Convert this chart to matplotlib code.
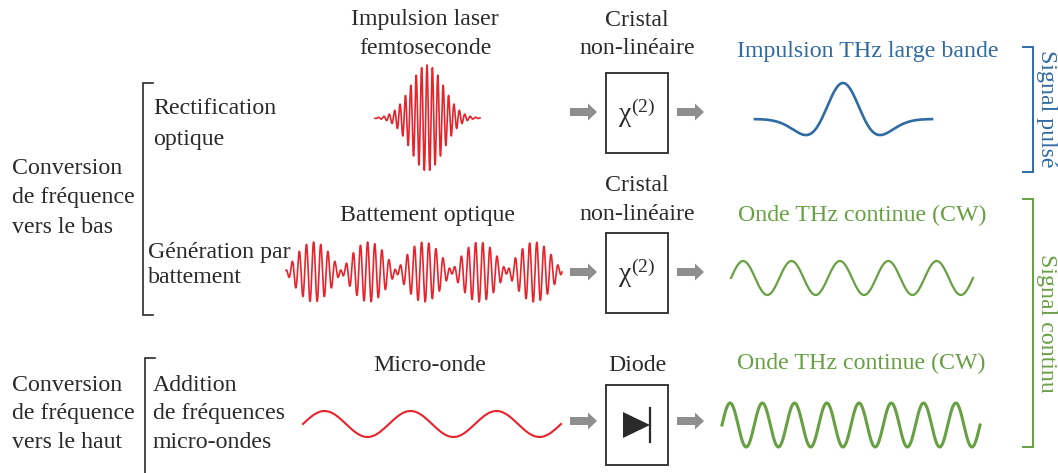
import numpy as np
import matplotlib
matplotlib.use("Agg")
import matplotlib.pyplot as plt
from matplotlib.patches import Rectangle, Polygon

plt.rcParams['font.family'] = ['Liberation Serif', 'DejaVu Serif']
plt.rcParams['mathtext.fontset'] = 'custom'
plt.rcParams['mathtext.rm'] = 'Liberation Serif'
plt.rcParams['mathtext.it'] = 'Liberation Serif'

# ---------------- data (pixel coordinates of the schematic) ----------------
RED = '#e8232c'
BLUE = '#2f6ba3'
GREEN = '#67a043'
GRAY = '#8e8e8e'
INK = '#2a2a2a'

left_group_labels = [["Conversion", "de fréquence", "vers le bas"],
                     ["Conversion", "de fréquence", "vers le haut"]]
left_group_y = [[168, 197, 227], [385, 413, 442]]
method_labels = [["Rectification", "optique"],
                 ["Génération par", "battement"],
                 ["Addition", "de fréquences", "micro-ondes"]]
method_y = [[108, 139], [252, 277], [385, 413, 442]]
method_x = [153, 148, 153]

input_titles = [["Impulsion laser", "femtoseconde"], ["Battement optique"], ["Micro-onde"]]
input_title_y = [[20, 48], [215], [365]]
input_title_x = [425, 428, 430]

device_titles = [["Cristal", "non-linéaire"], ["Cristal", "non-linéaire"], ["Diode"]]
device_title_y = [[20, 48], [185, 214], [365]]
device_box_top = [73, 233, 385]
arrow_y = [112, 272, 421]

output_titles = ["Impulsion THz large bande", "Onde THz continue (CW)", "Onde THz continue (CW)"]
output_title_y = [52, 215, 363]
output_title_x = [868, 862, 861]
output_colors = [BLUE, GREEN, GREEN]

# waveform parameters
pulse_span = (375, 480); pulse_y0 = 118; pulse_amp = 53; pulse_sigma = 16.5; pulse_period = 5.4
beat_span = (286, 562); beat_y0 = 272; beat_amp = 30; beat_period = 55.2; beat_carrier = 7.2; beat_ratio = 0.88
mw_span = (303, 561); mw_y0 = 424; mw_amp = 13; mw_cycles = 3
thz_span = (755, 932); thz_y0 = 119; thz_amp = 36; thz_center = 843; thz_sigma = 21.4
cw1_span = (731, 973); cw1_y0 = 278; cw1_amp = 17; cw1_cycles = 5
cw2_span = (722, 980); cw2_y0 = 425; cw2_amp = 22; cw2_cycles = 8

# ---------------- figure ----------------
fig = plt.figure(figsize=(10.58, 4.73), dpi=100)
ax = fig.add_axes([0, 0, 1, 1])
ax.set_xlim(0, 1058)
ax.set_ylim(473, 0)
ax.axis('off')

FS = 17.2

def txt(x, y, s, ha='center', color=INK, **kw):
    ax.text(x, y, s, ha=ha, va='center', fontsize=FS, color=color, **kw)

# left labels
for labels, ys in zip(left_group_labels, left_group_y):
    for s, y in zip(labels, ys):
        txt(12, y, s, ha='left')
for labels, ys, x in zip(method_labels, method_y, method_x):
    for s, y in zip(labels, ys):
        txt(x, y, s, ha='left')

# left brackets
ax.plot([153, 143, 143, 153], [83, 83, 315, 315], color=INK, lw=1.2, solid_joinstyle='miter')
ax.plot([155, 145, 145], [358, 358, 480], color=INK, lw=1.2, solid_joinstyle='miter')

# titles
for labels, ys, x in zip(input_titles, input_title_y, input_title_x):
    for s, y in zip(labels, ys):
        txt(x, y, s)
for labels, ys in zip(device_titles, device_title_y):
    for s, y in zip(labels, ys):
        txt(637, y, s)
for s, y, x, c in zip(output_titles, output_title_y, output_title_x, output_colors):
    txt(x, y, s, color=c)

# block arrow as polygon (pixel coordinates)
def block_arrow(x0, y, length=27, shaft=8, head=17, head_len=9):
    xs = x0 + length - head_len
    pts = [[x0, y - shaft / 2], [xs, y - shaft / 2], [xs, y - head / 2], [x0 + length, y],
           [xs, y + head / 2], [xs, y + shaft / 2], [x0, y + shaft / 2]]
    ax.add_patch(Polygon(pts, closed=True, facecolor=GRAY, edgecolor='none'))

# boxes and arrows
for i, (top, ay) in enumerate(zip(device_box_top, arrow_y)):
    ax.add_patch(Rectangle((606, top), 62, 80, fill=False, edgecolor=INK, lw=1.3))
    for x0 in (570, 677):
        block_arrow(x0, ay)
    if i < 2:
        ax.text(637, top + 40, r'$\chi^{(2)}$', ha='center', va='center', fontsize=20, color=INK)

# diode symbol
ax.add_patch(Polygon([[623, 412], [623, 438], [650, 425]], closed=True, color=INK, lw=0))
ax.plot([650, 650], [408, 442], color=INK, lw=1.6)

# femtosecond pulse
x = np.linspace(pulse_span[0], pulse_span[1], 2000)
c = 0.5 * (pulse_span[0] + pulse_span[1]) - 0.5
y = pulse_y0 - pulse_amp * np.exp(-(x - c) ** 2 / (2 * pulse_sigma ** 2)) * np.cos(2 * np.pi * (x - c) / pulse_period)
ax.plot(x, y, color=RED, lw=1.2)

# optical beat
x = np.linspace(beat_span[0], beat_span[1], 3000)
xm = beat_span[0] + beat_period / 2
f0 = 1 / beat_carrier
df = 1 / beat_period
sig = np.cos(2 * np.pi * (f0 + df / 2) * (x - xm)) + beat_ratio * np.cos(2 * np.pi * (f0 - df / 2) * (x - xm))
ax.plot(x, beat_y0 - beat_amp * sig / (1 + beat_ratio), color=RED, lw=1.2)

# microwave
x = np.linspace(mw_span[0], mw_span[1], 600)
ax.plot(x, mw_y0 - mw_amp * np.sin(2 * np.pi * mw_cycles * (x - mw_span[0]) / (mw_span[1] - mw_span[0])),
        color=RED, lw=1.5)

# THz pulse (Ricker-like)
x = np.linspace(thz_span[0], thz_span[1], 600)
t = (x - thz_center) / thz_sigma
ax.plot(x, thz_y0 - thz_amp * (1 - t ** 2) * np.exp(-t ** 2 / 2), color=BLUE, lw=1.9)

# CW waves
for span, y0, amp, cyc, lw in [(cw1_span, cw1_y0, cw1_amp, cw1_cycles, 1.6),
                               (cw2_span, cw2_y0, cw2_amp, cw2_cycles, 2.2)]:
    x = np.linspace(span[0], span[1], 800)
    ax.plot(x, y0 - amp * np.sin(2 * np.pi * cyc * (x - span[0]) / (span[1] - span[0])), color=GREEN, lw=lw)

# right brackets
ax.plot([1023, 1033, 1033, 1023], [47, 47, 172, 172], color=BLUE, lw=1.4, solid_joinstyle='miter')
ax.text(1046, 109, "Signal pulsé", rotation=-90, ha='center', va='center', fontsize=FS, color=BLUE)
ax.plot([1023, 1033, 1033, 1023], [199, 199, 447, 447], color=GREEN, lw=1.4, solid_joinstyle='miter')
ax.text(1046, 323, "Signal continu", rotation=-90, ha='center', va='center', fontsize=FS, color=GREEN)

fig.savefig("out.png", dpi=100)
